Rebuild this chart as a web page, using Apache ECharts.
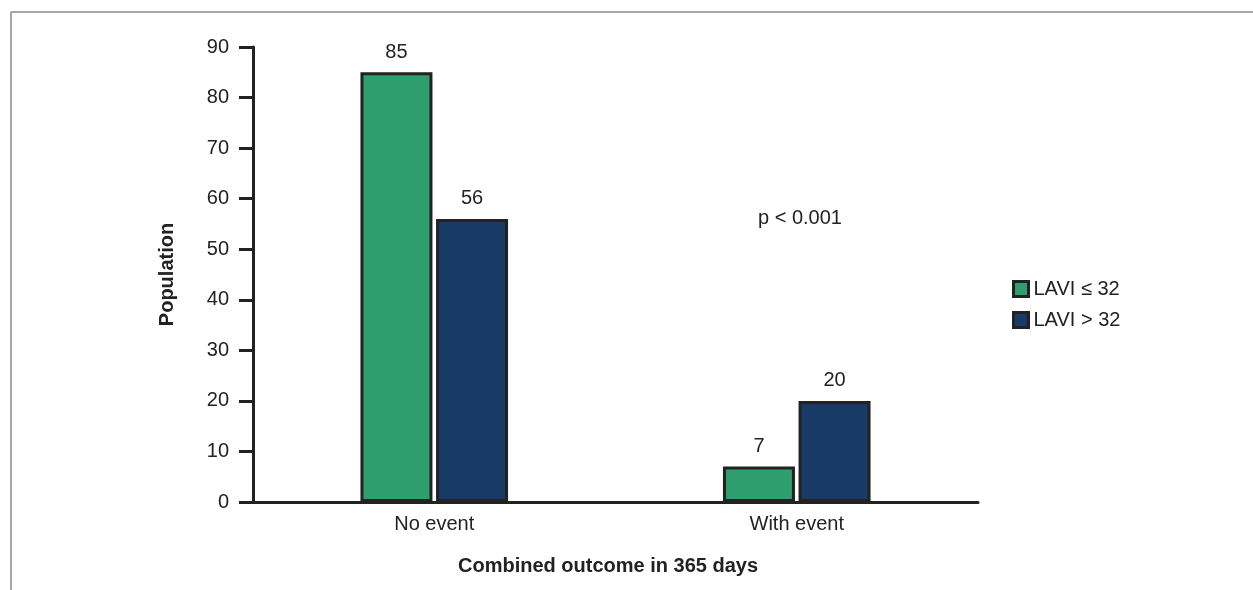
<!DOCTYPE html>
<html><head><meta charset="utf-8">
<script src="https://cdn.jsdelivr.net/npm/echarts@6/dist/echarts.min.js"></script>
<style>html,body{margin:0;padding:0;background:#fff}#c{width:1253px;height:590px}</style>
</head><body><div id="c"></div>
<script>
const categories = ['No event', 'With event'];
const seriesNames = ['LAVI \u2264 32', 'LAVI > 32'];
const laviLow = [85, 7];
const laviHigh = [56, 20];
const yTicks = [0, 10, 20, 30, 40, 50, 60, 70, 80, 90];
const annotation = 'p < 0.001';

const FONT = '"Liberation Sans Narrow", "Liberation Sans", Arial, sans-serif';
const chart = echarts.init(document.getElementById('c'));
const labelStyle = {show: true, position: 'top', distance: 10, color: '#222', fontSize: 20, fontFamily: FONT};
chart.setOption({
  animation: false,
  grid: {left: 253, right: 275, top: 47, bottom: 88},
  legend: {
    orient: 'vertical', left: 1007, top: 274, itemWidth: 15, itemHeight: 15, itemGap: 11,
    textStyle: {fontSize: 20, fontFamily: FONT, color: '#222'},
    data: seriesNames.map(n => ({name: n, icon: 'rect', itemStyle: {borderColor: '#222', borderWidth: 3}}))
  },
  xAxis: {
    type: 'category', data: categories,
    axisLine: {lineStyle: {color: '#222', width: 3}},
    axisTick: {show: false},
    axisLabel: {fontSize: 20, fontFamily: FONT, color: '#222', margin: 12},
    name: 'Combined outcome in 365 days', nameLocation: 'middle', nameGap: 54,
    nameTextStyle: {fontSize: 20, fontWeight: 'bold', fontFamily: FONT, color: '#222', padding: [0, 15, 0, 0]}
  },
  yAxis: {
    type: 'value', min: 0, max: 90, interval: 10,
    axisLine: {show: true, lineStyle: {color: '#222', width: 3}},
    axisTick: {show: true, length: 14, lineStyle: {color: '#222', width: 3}},
    splitLine: {show: false},
    axisLabel: {fontSize: 20, fontFamily: FONT, color: '#222', margin: 24,
      formatter: v => yTicks.includes(v) ? String(v) : ''},
    name: 'Population', nameLocation: 'middle', nameGap: 76,
    nameTextStyle: {fontSize: 20, fontWeight: 'bold', fontFamily: FONT, color: '#222'}
  },
  graphic: [
    {type: 'line', shape: {x1: 11, y1: 12, x2: 1253, y2: 12}, style: {stroke: '#8a8a8a', lineWidth: 1.5}},
    {type: 'line', shape: {x1: 11, y1: 12, x2: 11, y2: 590}, style: {stroke: '#8a8a8a', lineWidth: 1.5}},
    {type: 'text', left: 758, top: 208, style: {text: annotation, fontSize: 20, fontFamily: FONT, fill: '#222'}}
  ],
  series: [
    {name: seriesNames[0], type: 'bar', data: laviLow, barWidth: 72, barGap: '5%',
     itemStyle: {color: '#2e9e6f', borderColor: '#222', borderWidth: 3}, label: labelStyle},
    {name: seriesNames[1], type: 'bar', data: laviHigh, barWidth: 72,
     itemStyle: {color: '#183a66', borderColor: '#222', borderWidth: 3}, label: labelStyle}
  ]
});
</script></body></html>
